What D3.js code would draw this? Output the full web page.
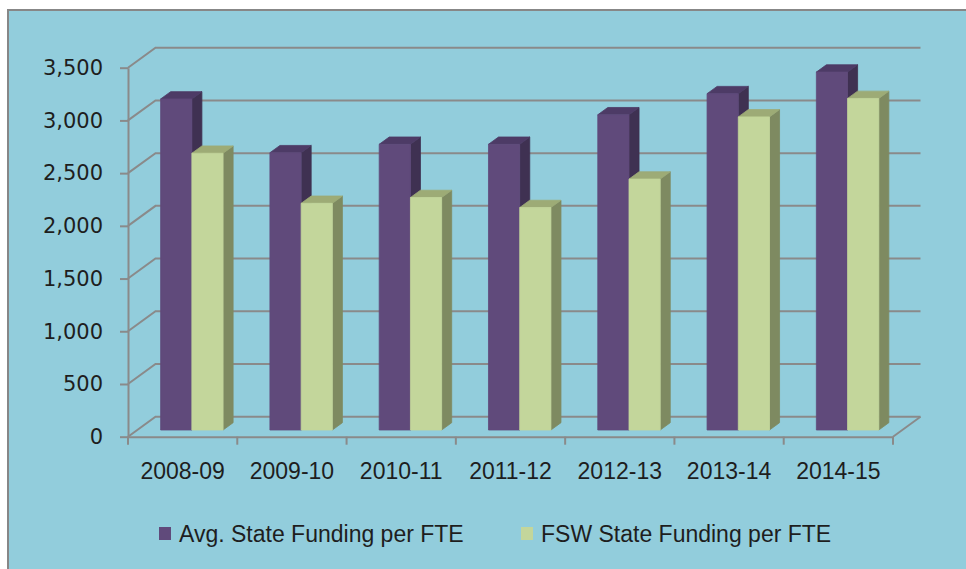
<!DOCTYPE html>
<html>
<head>
<meta charset="utf-8">
<script src="https://cdn.jsdelivr.net/npm/d3@7"></script>
<style>
  body { margin: 0; background: #fff; }
  svg { display: block; }
</style>
</head>
<body>
<svg id="chart" width="966" height="569"></svg>
<script>
// chart values
var categories = ['2008-09', '2009-10', '2010-11', '2011-12', '2012-13', '2013-14', '2014-15'];
var seriesNames = ['Avg. State Funding per FTE', 'FSW State Funding per FTE'];
var avgFunding = [3140, 2630, 2710, 2710, 2990, 3190, 3395];
var fswFunding = [2625, 2150, 2205, 2110, 2380, 2970, 3145];
var yTicks = [0, 500, 1000, 1500, 2000, 2500, 3000, 3500];

var colors = [
  { front: '#604A7B', side: '#3F3152', top: '#4D3B66' },
  { front: '#C3D69B', side: '#7E8A61', top: '#9DAB76' }
];

var svg = d3.select('#chart');

// chart area + border
svg.append('rect')
  .attr('x', 8).attr('y', 10)
  .attr('width', 980).attr('height', 580)
  .attr('fill', '#92CDDC')
  .attr('stroke', '#878787')
  .attr('stroke-width', 2);

var x = d3.scaleBand().domain(categories).range([128, 893]);
var sub = d3.scaleBand().domain(seriesNames).range([0, x.bandwidth()]).paddingOuter(0.75);
var y = d3.scaleLinear().domain([0, 3500]).range([436.7, 67.7]);

// oblique depth: z = 0 front, z = 1 back wall
var depthX = 27.5, depthY = -20;
function proj(px, v, z) {
  return [px + z * depthX, y(v) + z * depthY];
}
var barZ0 = 0.335, barZ1 = 0.7;

var gridColor = '#8A8A8A';
var grid = svg.append('g').attr('fill', 'none').attr('stroke', gridColor).attr('stroke-width', 2);

// back wall gridlines and left wall diagonals
yTicks.forEach(function(t) {
  var a = proj(128, t, 0), b = proj(128, t, 1), c = proj(893, t, 1);
  grid.append('path').attr('d', d3.line()([a, b, c]));
});
// floor right edge
grid.append('path').attr('d', d3.line()([proj(893, 0, 0), proj(893, 0, 1)]));

// y axis
var yAxis = svg.append('g')
  .attr('transform', 'translate(128,0)')
  .call(d3.axisLeft(y).tickValues(yTicks).tickFormat(d3.format(',')).tickSize(8).tickSizeOuter(0).tickPadding(17));
yAxis.selectAll('path, line').attr('stroke', gridColor).attr('stroke-width', 2);
yAxis.selectAll('text')
  .attr('font-family', 'DejaVu Sans, Verdana, sans-serif')
  .attr('font-size', 21)
  .attr('fill', '#1E1E1E');

// x axis: line + labels from axisBottom, boundary ticks drawn separately
var xAxis = svg.append('g')
  .attr('transform', 'translate(0,' + y(0) + ')')
  .call(d3.axisBottom(x).tickSize(0).tickPadding(0));
xAxis.select('.domain').attr('stroke', gridColor).attr('stroke-width', 2);
xAxis.selectAll('text')
  .attr('y', 42).attr('dy', 0)
  .attr('font-family', 'Liberation Sans, Arial, sans-serif')
  .attr('font-size', 23)
  .attr('fill', '#1E1E1E');

var bounds = categories.map(function(c) { return x(c); }).concat([x.range()[1]]);
svg.append('g').selectAll('line')
  .data(bounds).enter().append('line')
  .attr('x1', function(d) { return d; }).attr('x2', function(d) { return d; })
  .attr('y1', y(0)).attr('y2', y(0) + 8)
  .attr('stroke', gridColor).attr('stroke-width', 2);

// 3d bars
var data = [];
categories.forEach(function(c, i) {
  data.push({ cat: c, s: 0, v: avgFunding[i] });
  data.push({ cat: c, s: 1, v: fswFunding[i] });
});

var bars = svg.append('g').selectAll('g')
  .data(data).enter().append('g');

bars.each(function(d) {
  var g = d3.select(this);
  var xl = x(d.cat) + sub(seriesNames[d.s]);
  var xr = xl + sub.bandwidth();
  var col = colors[d.s];
  var side = [proj(xr, 0, barZ0), proj(xr, d.v, barZ0), proj(xr, d.v, barZ1), proj(xr, 0, barZ1)];
  var top = [proj(xl, d.v, barZ0), proj(xr, d.v, barZ0), proj(xr, d.v, barZ1), proj(xl, d.v, barZ1)];
  var front = [proj(xl, 0, barZ0), proj(xl, d.v, barZ0), proj(xr, d.v, barZ0), proj(xr, 0, barZ0)];
  g.append('path').attr('d', d3.line()(side) + 'Z').attr('fill', col.side)
    .attr('stroke', col.side).attr('stroke-width', 0.8);
  g.append('path').attr('d', d3.line()(top) + 'Z').attr('fill', col.top)
    .attr('stroke', col.top).attr('stroke-width', 0.8);
  g.append('path').attr('d', d3.line()(front) + 'Z').attr('fill', col.front)
    .attr('stroke', col.front).attr('stroke-width', 0.8);
});

// legend
var legendX = [159, 521];
var legend = svg.append('g').selectAll('g')
  .data(seriesNames).enter().append('g')
  .attr('transform', function(d, i) { return 'translate(' + legendX[i] + ',527)'; });
legend.append('rect')
  .attr('width', 12).attr('height', 13)
  .attr('fill', function(d, i) { return colors[i].front; });
legend.append('text')
  .attr('x', 20).attr('y', 15)
  .attr('font-family', 'Liberation Sans, Arial, sans-serif')
  .attr('font-size', 23)
  .attr('fill', '#1E1E1E')
  .text(function(d) { return d; });
</script>
</body>
</html>
